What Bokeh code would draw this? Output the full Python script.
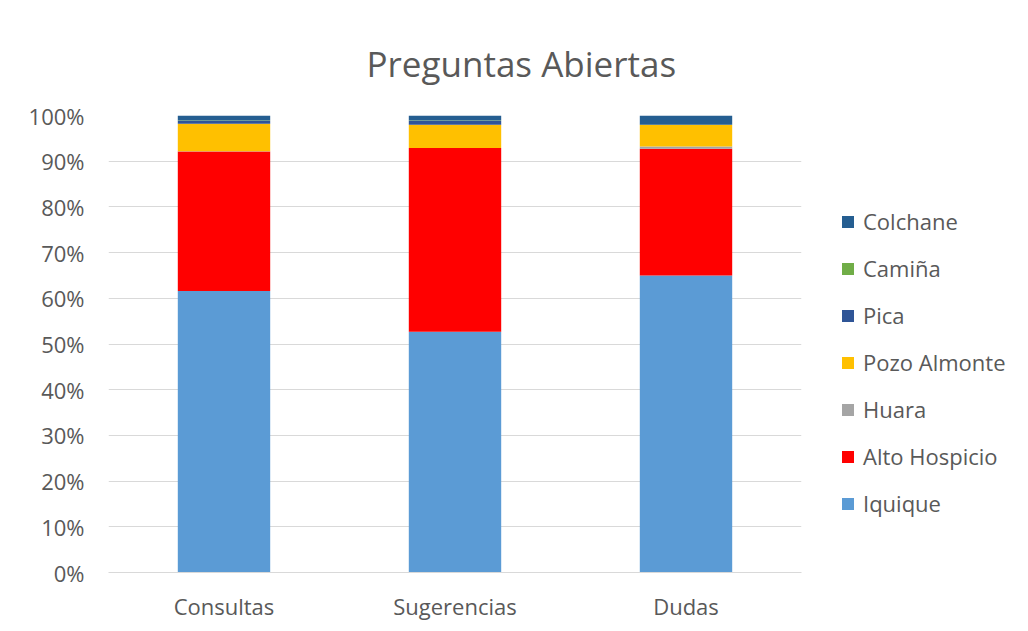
from bokeh.plotting import figure
from bokeh.models import (ColumnDataSource, FactorRange, Range1d, Legend, LegendItem,
                          NumeralTickFormatter, FixedTicker, Title)
from bokeh.embed import file_html
from bokeh.resources import INLINE

categories = ["Consultas", "Sugerencias", "Dudas"]
series = ["Iquique", "Alto Hospicio", "Huara", "Pozo Almonte", "Pica", "Camiña", "Colchane"]
iquique = [61.6, 52.7, 65.0]
alto_hospicio = [30.5, 40.2, 27.7]
huara = [0.1, 0.0, 0.5]
pozo_almonte = [6.0, 5.1, 4.8]
pica = [0.6, 0.8, 0.0]
camina = [0.1, 0.1, 0.0]
colchane = [1.1, 1.1, 2.0]
colors = ["#5B9BD5", "#FF0000", "#A5A5A5", "#FFC000", "#2F5597", "#70AD47", "#255E91"]

values = [iquique, alto_hospicio, huara, pozo_almonte, pica, camina, colchane]
data = {"cat": categories}
for name, vals in zip(series, values):
    data[name] = [v / 100.0 for v in vals]
source = ColumnDataSource(data)

FONT = "Open Sans"
TXT = "#595959"

p = figure(x_range=FactorRange(*categories, range_padding=0), y_range=Range1d(0, 1),
           width=1020, height=623, frame_width=693, frame_height=457,
           min_border_left=108, min_border_top=115, min_border_bottom=51, min_border_right=219,
           output_backend="svg", toolbar_location=None, tools="")

renderers = p.vbar_stack(series, x="cat", width=0.4, source=source, color=colors, line_width=0)

p.outline_line_color = None
p.xgrid.grid_line_color = None
p.ygrid.grid_line_color = "#D9D9D9"
p.ygrid.grid_line_width = 1
p.yaxis.ticker = FixedTicker(ticks=[i / 10 for i in range(11)])
p.yaxis.formatter = NumeralTickFormatter(format="0%")
p.yaxis.axis_line_color = None
p.yaxis.major_tick_line_color = None
p.yaxis.minor_tick_line_color = None
p.yaxis.major_label_standoff = 18
p.xaxis.axis_line_color = "#D9D9D9"
p.xaxis.major_tick_line_color = None
p.xaxis.minor_tick_line_color = None
p.xaxis.major_label_standoff = 12
for ax in (p.xaxis[0], p.yaxis[0]):
    ax.major_label_text_font = FONT
    ax.major_label_text_font_size = "22px"
    ax.major_label_text_color = TXT

title = Title(text="Preguntas Abiertas", align="left", offset=258, standoff=58,
              text_font=FONT, text_font_size="35px", text_color=TXT, text_font_style="normal")
p.add_layout(title, "above")

items = [LegendItem(label=s, renderers=[r]) for s, r in zip(series, renderers)]
items = items[::-1]
legend = Legend(items=items, location=(39, 54), orientation="vertical",
                label_text_font=FONT, label_text_font_size="22px", label_text_color=TXT,
                glyph_width=15, glyph_height=15, label_standoff=8, spacing=17,
                label_height=30, padding=0, margin=0, border_line_color=None,
                background_fill_alpha=0)
p.add_layout(legend, "right")

open("out.html", "w").write(file_html(p, INLINE))
